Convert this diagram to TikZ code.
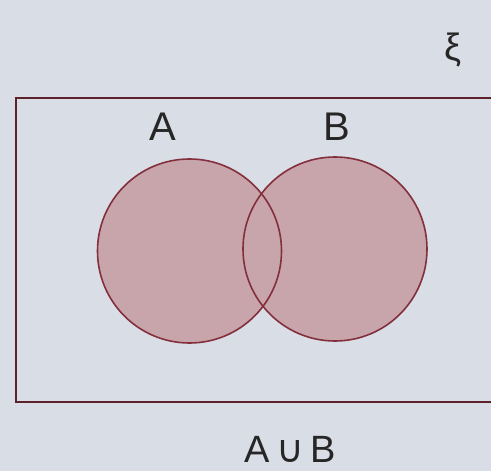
\documentclass[tikz,border=0pt]{standalone}
\usepackage{fontspec}
\setmainfont{Liberation Sans}
\newfontfamily\symfont{DejaVu Sans}
\begin{document}
\begin{tikzpicture}[x=1pt,y=-1pt,
  setc/.style={circle,minimum size=184pt,inner sep=0pt,draw=outl,line width=1.6pt},
  lbl/.style={text=black!85,font=\fontsize{40}{44}\selectfont,inner sep=0pt}]
\definecolor{bg}{HTML}{D9DDE5}
\definecolor{outl}{HTML}{842F3C}
\definecolor{fillc}{HTML}{C8A4AB}
\fill[bg] (0,0) rectangle (491,471);
\useasboundingbox (0,0) rectangle (491,471);
\draw[outl!70!black,line width=1.5pt] (500,98) -- (16,98) -- (16,402) -- (500,402);
\fill[fillc] (189.5,251) circle (92);
\fill[fillc] (335,249) circle (92);
\node[setc] (A) at (189.5,251) {};
\node[setc] (B) at (335,249) {};
\node[lbl] (la) at (163,127) {A};
\node[lbl] (lb) at (337,127) {B};
\node[text=black!85,font=\fontsize{38}{40}\selectfont] (xi) at (453,50) {ξ};
\node[lbl,anchor=base,font=\fontsize{38}{40}\selectfont] (u) at (290,462) {A\,{\symfont ∪}\,B};
\end{tikzpicture}
\end{document}
